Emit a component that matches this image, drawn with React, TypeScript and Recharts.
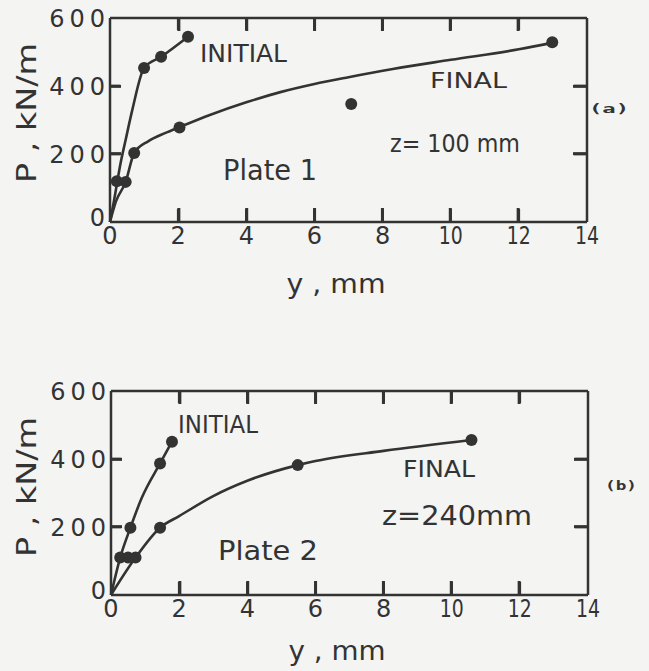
import React from 'react';
import { ComposedChart, Line, Scatter, XAxis, YAxis } from 'recharts';

// axis ticks
const xTicks = [0, 2, 4, 6, 8, 10, 12, 14];
const innerXTicks = [2, 4, 6, 8, 10, 12];
const yTicks = [0, 200, 400, 600];
const sideYTicks = [200, 400];

// Plate 1, z = 100 mm  (x = y in mm, p = P in kN/m)
const plate1InitialPts = [
  { x: 0.2, p: 120 }, { x: 1.0, p: 453 }, { x: 1.5, p: 486 }, { x: 2.29, p: 545 },
];
const plate1InitialCurve = [
  { x: 0, p: 0 }, { x: 0.12, p: 64 }, { x: 0.31, p: 173 }, { x: 0.46, p: 242 },
  { x: 0.66, p: 332 }, { x: 1.0, p: 453 }, { x: 1.5, p: 486 }, { x: 2.29, p: 545 },
];
const plate1FinalPts = [
  { x: 0.46, p: 118 }, { x: 0.71, p: 203 }, { x: 2.04, p: 278 }, { x: 7.08, p: 347 }, { x: 12.98, p: 529 },
];
const plate1FinalCurve = [
  { x: 0, p: 0 }, { x: 0.17, p: 59 }, { x: 0.46, p: 118 }, { x: 0.71, p: 203 },
  { x: 1.13, p: 238 }, { x: 1.63, p: 262 }, { x: 2.04, p: 279 }, { x: 2.91, p: 314 },
  { x: 4, p: 352 }, { x: 5, p: 382 }, { x: 6, p: 406 }, { x: 7, p: 426 },
  { x: 8.3, p: 450 }, { x: 10, p: 477 }, { x: 12, p: 508 }, { x: 12.98, p: 527 },
];

// Plate 2, z = 240 mm
const plate2InitialPts = [
  { x: 0.27, p: 110 }, { x: 0.57, p: 198 }, { x: 1.44, p: 387 }, { x: 1.79, p: 451 },
];
const plate2InitialCurve = [
  { x: 0, p: 0 }, { x: 0.27, p: 110 }, { x: 0.57, p: 198 }, { x: 0.9, p: 285 },
  { x: 1.44, p: 387 }, { x: 1.79, p: 451 },
];
const plate2FinalPts = [
  { x: 0.5, p: 110 }, { x: 0.72, p: 110 }, { x: 1.44, p: 198 }, { x: 5.48, p: 382 }, { x: 10.58, p: 456 },
];
const plate2FinalCurve = [
  { x: 0, p: 0 }, { x: 0.72, p: 110 }, { x: 1.44, p: 198 }, { x: 2, p: 232 },
  { x: 3, p: 291 }, { x: 4, p: 336 }, { x: 5.48, p: 382 }, { x: 6, p: 394 },
  { x: 8, p: 424 }, { x: 10.58, p: 456 },
];

const FONT = '"DejaVu Sans", sans-serif';
const INK = '#333333';
const BG = '#f4f4f2';
const TICK_FS = 24;
const CHART_H = 260;
const X_AXIS_H = 39;
const MARGIN_TOP = 18;

const dot = (props: any) => <circle cx={props.cx} cy={props.cy} r={6} fill={INK} />;
const noLabel = () => <g />;

const axisLine = { stroke: INK, strokeWidth: 2.5 };
const tickLine = { stroke: INK, strokeWidth: 2.5 };

const BottomTick = (props: any) => {
  const { x, y, payload } = props;
  const v = payload.value;
  const wide = v >= 10;
  return (
    <text x={x} y={y} dy="0.72em" textAnchor="middle" fontSize={TICK_FS} fontFamily={FONT} fill={INK}
      textLength={wide ? 24 : undefined} lengthAdjust="spacingAndGlyphs">{v}</text>
  );
};

const LeftTick = (props: any) => {
  const { x, y, payload } = props;
  const v = payload.value;
  return (
    <text x={x + 5} y={v === 0 ? y - 5 : y} dy="0.36em" textAnchor="end" fontSize={TICK_FS}
      fontFamily={FONT} letterSpacing={5} fill={INK}>{v}</text>
  );
};

interface PanelProps {
  top: number;
  labelWidth: number;
  right: number;
  initialCurve: { x: number; p: number }[];
  initialPts: { x: number; p: number }[];
  finalCurve: { x: number; p: number }[];
  finalPts: { x: number; p: number }[];
}

const Panel = ({ top, labelWidth, right, initialCurve, initialPts, finalCurve, finalPts }: PanelProps) => (
  <div style={{ position: 'absolute', left: 0, top }}>
    <ComposedChart width={649} height={CHART_H} margin={{ top: MARGIN_TOP, right: right - 1, left: 0, bottom: 0 }}>
      <XAxis
        xAxisId="t" orientation="top" mirror dataKey="x" type="number" domain={[0, 14]} ticks={innerXTicks}
        height={1} tickSize={12} interval={0} tick={noLabel} axisLine={axisLine} tickLine={tickLine}
      />
      <XAxis
        xAxisId="bt" mirror dataKey="x" type="number" domain={[0, 14]} ticks={innerXTicks}
        height={1} tickSize={13} interval={0} tick={noLabel} axisLine={false} tickLine={tickLine}
      />
      <XAxis
        xAxisId="b" dataKey="x" type="number" domain={[0, 14]} ticks={xTicks}
        height={X_AXIS_H - 1} tickSize={0} tickMargin={5} interval={0}
        tick={<BottomTick />} axisLine={axisLine} tickLine={false}
      />
      <YAxis
        yAxisId="lt" mirror dataKey="p" type="number" domain={[0, 600]} ticks={sideYTicks}
        width={1} tickSize={10} interval={0} tick={noLabel} axisLine={false} tickLine={tickLine}
      />
      <YAxis
        yAxisId="l" dataKey="p" type="number" domain={[0, 600]} ticks={yTicks}
        width={labelWidth} tickSize={0} tickMargin={5} interval={0}
        tick={<LeftTick />} axisLine={axisLine} tickLine={false}
      />
      <YAxis
        yAxisId="r" orientation="right" mirror dataKey="p" type="number" domain={[0, 600]} ticks={sideYTicks}
        width={1} tickSize={13} interval={0} tick={noLabel} axisLine={axisLine} tickLine={tickLine}
      />
      <Line xAxisId="b" yAxisId="l" data={initialCurve} dataKey="p" type="monotone" stroke={INK}
        strokeWidth={2.6} dot={false} activeDot={false} isAnimationActive={false} />
      <Line xAxisId="bt" yAxisId="lt" data={finalCurve} dataKey="p" type="monotone" stroke={INK}
        strokeWidth={2.6} dot={false} activeDot={false} isAnimationActive={false} />
      <Scatter xAxisId="t" yAxisId="r" data={initialPts} dataKey="p" shape={dot} isAnimationActive={false} />
      <Scatter xAxisId="b" yAxisId="l" data={finalPts} dataKey="p" shape={dot} isAnimationActive={false} />
    </ComposedChart>
  </div>
);

// inward frame tick marks, placed from the same axis geometry the charts use
const FrameMarks = ({ top, labelWidth, right }: { top: number; labelWidth: number; right: number }) => {
  const left = labelWidth + 1;
  const plotRight = 649 - right;
  const plotTop = top + MARGIN_TOP + 1;
  const plotBottom = top + CHART_H - X_AXIS_H;
  const sx = (v: number) => left + (v / 14) * (plotRight - left);
  const sy = (v: number) => plotBottom - (v / 600) * (plotBottom - plotTop);
  return (
    <g fill={INK}>
      {innerXTicks.map((t) => <rect key={`b${t}`} x={sx(t) - 1.5} y={plotBottom - 13} width={3} height={14} />)}
      {innerXTicks.map((t) => <rect key={`t${t}`} x={sx(t) - 1.5} y={plotTop - 1} width={3} height={13} />)}
      {sideYTicks.map((t) => <rect key={`l${t}`} x={left - 1} y={sy(t) - 1.5} width={11} height={3} />)}
      {sideYTicks.map((t) => <rect key={`r${t}`} x={plotRight - 13} y={sy(t) - 1.5} width={14} height={3} />)}
    </g>
  );
};

const T = ({ x, y, size, len, children, anchor = 'start', rotate = false, bold = false, mono = false }: any) => (
  <text
    x={x} y={y} fontSize={size} textLength={len} lengthAdjust="spacingAndGlyphs"
    textAnchor={anchor} fill={INK} fontWeight={bold ? 'bold' : 'normal'}
    fontFamily={mono ? '"DejaVu Sans Mono", monospace' : FONT}
    transform={rotate ? `rotate(-90, ${x}, ${y})` : undefined}
  >
    {children}
  </text>
);

export default function App() {
  return (
    <div style={{ position: 'absolute', left: 0, top: 0, width: 649, height: 671, background: BG, overflow: 'hidden' }}>
      <Panel top={0} labelWidth={110} right={63}
        initialCurve={plate1InitialCurve} initialPts={plate1InitialPts}
        finalCurve={plate1FinalCurve} finalPts={plate1FinalPts} />
      <Panel top={373} labelWidth={111} right={62}
        initialCurve={plate2InitialCurve} initialPts={plate2InitialPts}
        finalCurve={plate2FinalCurve} finalPts={plate2FinalPts} />
      <svg width={649} height={671} style={{ position: 'absolute', left: 0, top: 0, pointerEvents: 'none' }}>
        <FrameMarks top={0} labelWidth={110} right={63} />
        <FrameMarks top={373} labelWidth={111} right={62} />
        {/* panel (a) */}
        <T x={200} y={62} size={25} len={87}>INITIAL</T>
        <T x={430} y={88} size={22} len={77}>FINAL</T>
        <T x={390} y={152} size={25} len={130}>z= 100 mm</T>
        <T x={223} y={180} size={28} len={94}>Plate 1</T>
        <T x={589} y={113} size={13} len={40} bold mono>(a)</T>
        <T x={36} y={113} size={27} len={140} anchor="middle" rotate>P , kN/m</T>
        <T x={336} y={293} size={27} len={99} anchor="middle">y , mm</T>
        {/* panel (b) */}
        <T x={178} y={433} size={24} len={80}>INITIAL</T>
        <T x={403} y={477} size={23} len={72}>FINAL</T>
        <T x={382} y={525} size={26} len={150}>z=240mm</T>
        <T x={218} y={560} size={26} len={100}>Plate 2</T>
        <T x={605} y={490} size={13} len={32} bold mono>(b)</T>
        <T x={36} y={487} size={27} len={140} anchor="middle" rotate>P , kN/m</T>
        <T x={337} y={660} size={27} len={97} anchor="middle">y , mm</T>
      </svg>
    </div>
  );
}
